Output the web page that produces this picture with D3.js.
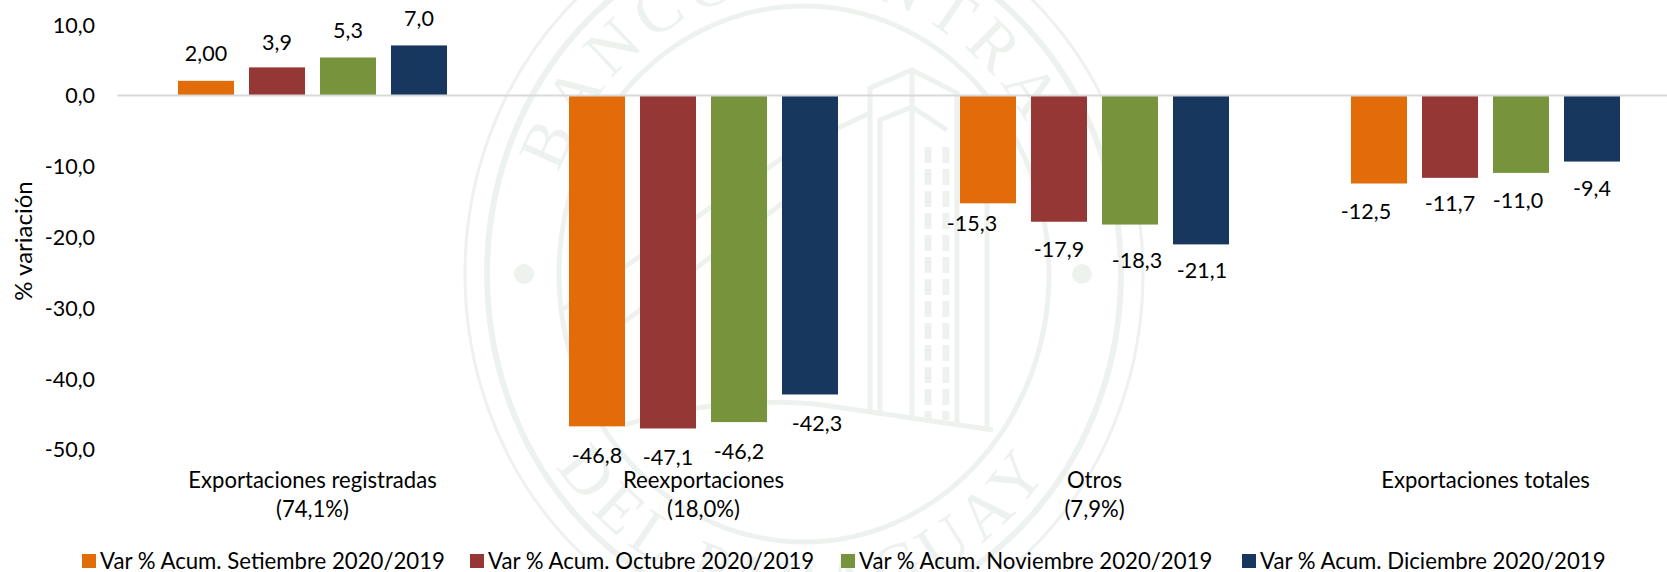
<!DOCTYPE html>
<html>
<head>
<meta charset="utf-8">
<script src="https://cdn.jsdelivr.net/npm/d3@7"></script>
<style>
    html, body { margin: 0; padding: 0; background: #fff; overflow: hidden; }
    text { font-family: Lato, "Open Sans", sans-serif; fill: #000; }
</style>
</head>
<body>
<div id="chart"></div>
<script>
// Data
const categories = ["Exportaciones registradas", "Reexportaciones", "Otros", "Exportaciones totales"]
const categoryShares = ["(74,1%)", "(18,0%)", "(7,9%)", ""]
const seriesNames = [
    "Var % Acum. Setiembre 2020/2019",
    "Var % Acum. Octubre 2020/2019",
    "Var % Acum. Noviembre 2020/2019",
    "Var % Acum. Diciembre 2020/2019"
]
const setiembre = [2.0, -46.8, -15.3, -12.5]
const octubre = [3.9, -47.1, -17.9, -11.7]
const noviembre = [5.3, -46.2, -18.3, -11.0]
const diciembre = [7.0, -42.3, -21.1, -9.4]
const seriesValues = [setiembre, octubre, noviembre, diciembre]
const yTicks = [10, 0, -10, -20, -30, -40, -50]
const colors = ["#E36C0A", "#953735", "#77933C", "#17375E"]

// Labels that were moved by hand in the original, "series-category": [dx, dy]
const labelNudge = {
    "0-0": [0, -3], "2-0": [0, -2], "3-0": [0, -2],
    "0-1": [0, 2], "1-1": [0, 2], "2-1": [0, 2], "3-1": [7, 2],
    "0-2": [-16, -7], "1-2": [0, 0], "2-2": [7, 8], "3-2": [1, -1],
    "0-3": [-13, 0], "1-3": [0, -2], "2-3": [-3, 0], "3-3": [0, -1]
}

const width = 1667, height = 572
const margin = { left: 117 }

const svg = d3.select("#chart").append("svg")
    .attr("width", width)
    .attr("height", height)
    .style("display", "block")

drawWatermark(svg)

// Scales. The last group runs past the right edge, the picture is cut there
const yScale = d3.scaleLinear().domain([10, -50]).range([24.2, 449])
const xScale = d3.scaleBand().domain(d3.range(categories.length)).range([margin.left, margin.left + 391 * 4])
const xInner = d3.scaleBand().domain(d3.range(seriesNames.length)).range([0, xScale.bandwidth()])
    .paddingInner(0.211).paddingOuter(0.859)

const numFormat = d3.formatLocale({ decimal: ",", thousands: ".", grouping: [3], currency: ["", ""], minus: "-" }).format(".1f")

// Axes
const yAxis = svg.append("g")
    .attr("transform", "translate(95,1)")
    .call(d3.axisLeft(yScale).tickValues(yTicks).tickSize(0).tickPadding(0).tickFormat(numFormat))
yAxis.select(".domain").remove()
yAxis.selectAll("text").attr("font-size", 21.5).style("font-family", "Lato")

// Bars
const series = svg.selectAll(".series")
    .data(seriesValues)
    .enter()
    .append("g")
    .attr("class", "series")
    .attr("fill", (d, i) => colors[i])

series.selectAll("rect")
    .data((d, s) => d.map((v, c) => ({ v, c, s })))
    .enter()
    .append("rect")
    .attr("x", d => xScale(d.c) + xInner(d.s))
    .attr("y", d => Math.min(yScale(0), yScale(d.v)))
    .attr("width", xInner.bandwidth())
    .attr("height", d => Math.abs(yScale(d.v) - yScale(0)))

// Zero line, drawn over the bar ends
const xAxis = svg.append("g")
    .attr("transform", `translate(0,${yScale(0)})`)
    .call(d3.axisBottom(xScale).tickSize(0).tickFormat(""))
xAxis.select(".domain").attr("stroke", "#d9d9d9").attr("stroke-width", 2)
xAxis.selectAll("text").remove()

// Data labels
series.selectAll("text")
    .data((d, s) => d.map((v, c) => ({ v, c, s })))
    .enter()
    .append("text")
    .attr("text-anchor", "middle")
    .attr("dominant-baseline", "central")
    .attr("font-size", 21.5)
    .attr("x", d => xScale(d.c) + xInner(d.s) + xInner.bandwidth() / 2 + (labelNudge[d.s + "-" + d.c] || [0, 0])[0])
    .attr("y", d => yScale(d.v) + (d.v > 0 ? -25 : 27) + (labelNudge[d.s + "-" + d.c] || [0, 0])[1])
    .text(d => d.s === 0 && d.c === 0 ? "2,00" : numFormat(d.v))

// Category labels
const catLabels = svg.selectAll(".cat")
    .data(categories)
    .enter()
    .append("g")
    .attr("class", "cat")
    .attr("transform", (d, i) => `translate(${xScale(i) + xScale.bandwidth() / 2},0)`)

catLabels.append("text")
    .attr("text-anchor", "middle").attr("dominant-baseline", "central")
    .attr("y", 479).attr("font-size", 22.1)
    .text(d => d)

catLabels.append("text")
    .attr("text-anchor", "middle").attr("dominant-baseline", "central")
    .attr("y", 508).attr("font-size", 22.1)
    .text((d, i) => categoryShares[i])

// Y axis title
svg.append("text")
    .attr("transform", "translate(22,241) rotate(270)")
    .attr("text-anchor", "middle").attr("dominant-baseline", "central")
    .attr("font-size", 24)
    .text("% variación")

// Legend
const legendX = [82, 470, 841, 1242]
const legend = svg.selectAll(".legend")
    .data(seriesNames)
    .enter()
    .append("g")
    .attr("class", "legend")
    .attr("transform", (d, i) => `translate(${legendX[i]},560)`)

legend.append("rect")
    .attr("y", -6).attr("width", 14).attr("height", 14)
    .attr("fill", (d, i) => colors[i])

legend.append("text")
    .attr("x", 18)
    .attr("dominant-baseline", "central")
    .attr("font-size", 22.2)
    .text(d => d)

// Pale seal behind the chart
function drawWatermark(svg) {
    const cx = 804, cy = 274
    const ink = "#edf2ef"
    const g = svg.append("g").attr("fill", "none").attr("stroke", ink)

    const rings = [[339, 371, 3], [317, 347, 6], [245, 268, 5]]
    rings.forEach(r => {
        g.append("ellipse").attr("cx", cx).attr("cy", cy)
            .attr("rx", r[0]).attr("ry", r[1]).attr("stroke-width", r[2])
    })

    // Dots left and right
    ;[-280, 278].forEach(dx => {
        g.append("circle").attr("cx", cx + dx).attr("cy", cy).attr("r", 10)
            .attr("fill", ink).attr("stroke", "none")
    })

    // Building
    const building = [
        "M870,413 L870,88 L912,70 L957,93 L957,427",
        "M880,416 L880,120 L912,107 L947,130",
        "M912,70 L912,420",
        "M987,150 L987,430",
        "M562,310 L800,146 L870,113",
        "M600,340 L800,190",
        "M625,425 C700,400 780,400 823,405 L993,430"
    ]
    g.selectAll(".bld").data(building).enter().append("path")
        .attr("class", "bld").attr("d", d => d).attr("stroke-width", 5)

    // Column of windows, two broken lines
    ;[928, 946].forEach(x => {
        g.append("path").attr("d", `M${x},147 L${x},420`)
            .attr("stroke-width", 7).attr("stroke-dasharray", "16 6")
    })

    // Curved lettering
    const defs = svg.append("defs")
    defs.append("path").attr("id", "sealTop")
        .attr("d", `M${cx - 262},${cy} A262,286 0 0 1 ${cx + 262},${cy}`)
    defs.append("path").attr("id", "sealBottom")
        .attr("d", `M${cx - 304},${cy} A304,332 0 0 0 ${cx + 304},${cy}`)

    const arcText = (id, txt, spacing) => {
        svg.append("text")
            .attr("text-anchor", "middle")
            .style("font-family", "'Liberation Serif', serif")
            .style("font-size", "66px")
            .style("letter-spacing", spacing + "px")
            .style("fill", ink)
            .append("textPath")
            .attr("href", "#" + id)
            .attr("startOffset", "50%")
            .text(txt)
    }
    arcText("sealTop", "BANCO CENTRAL", 8)
    arcText("sealBottom", "DEL PARAGUAY", 8)
}
</script>
</body>
</html>
